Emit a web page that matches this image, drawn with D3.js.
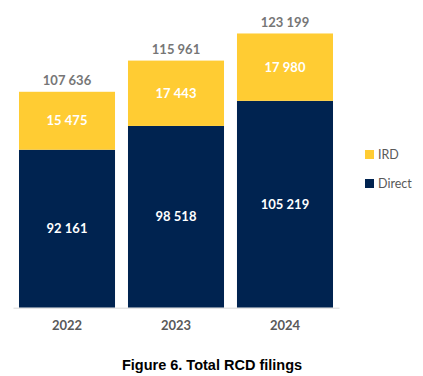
<!DOCTYPE html>
<html>
<head>
<script src="https://d3js.org/d3.v7.min.js"></script>
<style>
  body { margin: 0; background: white; }
  text { font-family: Lato, "Open Sans", sans-serif; }
</style>
</head>
<body>
<svg id="chart" width="423" height="376"></svg>
<script>
// data
const years = ["2022", "2023", "2024"];
const direct = [92161, 98518, 105219];
const ird = [15475, 17443, 17980];
const totals = [107636, 115961, 123199];
const seriesNames = ["IRD", "Direct"];

const colors = {IRD: "#FFCC33", Direct: "#002350"};
const fmt = v => d3.format(",")(v).replace(/,/g, " ");

const svg = d3.select("#chart");

// scales (value axis does not start at zero in the original)
const x = d3.scaleBand().domain(years).range([13, 339]).paddingInner(0.119).paddingOuter(0.055);
const y = d3.scaleLinear().domain([50000, 130000]).range([307.7, 8]);
const yMin = y.domain()[0];

const rows = years.map((yr, i) => ({year: yr, Direct: direct[i], IRD: ird[i], total: totals[i]}));
const stacked = d3.stack().keys(["Direct", "IRD"])(rows);

const g = svg.append("g");

// bars
g.selectAll("g.layer").data(stacked)
  .join("g")
  .attr("class", "layer")
  .attr("fill", d => colors[d.key])
  .selectAll("rect").data(d => d)
  .join("rect")
  .attr("x", d => x(d.data.year))
  .attr("width", x.bandwidth())
  .attr("y", d => y(d[1]))
  .attr("height", d => y(Math.max(d[0], yMin)) - y(d[1]));

// segment labels
stacked.forEach(layer => {
  g.selectAll("text.seg-" + layer.key).data(layer)
    .join("text")
    .attr("x", d => x(d.data.year) + x.bandwidth() / 2)
    .attr("y", d => (y(d[1]) + y(Math.max(d[0], yMin))) / 2)
    .attr("dy", "0.35em")
    .attr("text-anchor", "middle")
    .attr("fill", "white")
    .attr("font-weight", "bold")
    .attr("font-size", 13)
    .text(d => fmt(d.data[layer.key]));
});

// total labels
g.selectAll("text.total").data(rows)
  .join("text")
  .attr("class", "total")
  .attr("x", d => x(d.year) + x.bandwidth() / 2)
  .attr("y", d => y(d.total) - 11)
  .attr("dy", "0.35em")
  .attr("text-anchor", "middle")
  .attr("fill", "#767676")
  .attr("font-weight", "bold")
  .attr("font-size", 13)
  .text(d => fmt(d.total));

// x axis
const xAxis = svg.append("g")
  .attr("transform", "translate(0,307.7)")
  .call(d3.axisBottom(x).tickSize(0).tickPadding(13));
xAxis.select(".domain").attr("stroke", "#D9D9D9").attr("stroke-width", 1);
xAxis.selectAll(".tick text")
  .attr("font-family", "Lato, sans-serif")
  .attr("font-size", 13)
  .attr("font-weight", "bold")
  .attr("fill", "#595959");

// legend
const legend = svg.append("g").attr("transform", "translate(365,150)");
legend.selectAll("g").data(seriesNames)
  .join("g")
  .attr("transform", (d, i) => `translate(0,${i * 29})`)
  .call(s => {
    s.append("rect").attr("width", 9).attr("height", 9).attr("fill", d => colors[d]);
    s.append("text").attr("x", 13).attr("y", 4.5).attr("dy", "0.35em")
      .attr("font-size", 12.5).attr("fill", "#595959").text(d => d);
  });

// caption
svg.append("text")
  .attr("x", 212)
  .attr("y", 365)
  .attr("dy", "0.35em")
  .attr("text-anchor", "middle")
  .style("font-family", "'Liberation Sans', Arial, sans-serif")
  .attr("font-size", 14.5)
  .attr("font-weight", "bold")
  .attr("fill", "#000")
  .text("Figure 6. Total RCD filings");
</script>
</body>
</html>
